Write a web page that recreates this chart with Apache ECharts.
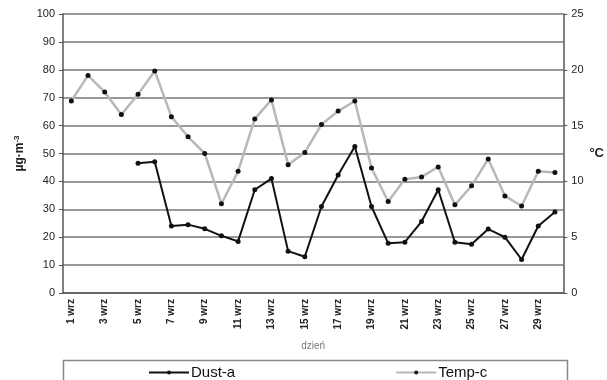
<!DOCTYPE html>
<html><head><meta charset="utf-8">
<script src="https://cdn.jsdelivr.net/npm/echarts@6/dist/echarts.min.js"></script>
<style>html,body{margin:0;padding:0;background:#fff}#c{width:607px;height:380px}</style>
</head><body><div id="c"></div>
<script>
var days = ["1 wrz","2 wrz","3 wrz","4 wrz","5 wrz","6 wrz","7 wrz","8 wrz","9 wrz","10 wrz","11 wrz","12 wrz","13 wrz","14 wrz","15 wrz","16 wrz","17 wrz","18 wrz","19 wrz","20 wrz","21 wrz","22 wrz","23 wrz","24 wrz","25 wrz","26 wrz","27 wrz","28 wrz","29 wrz","30 wrz"];
var dust = [null,null,null,null,46.5,47,24,24.5,23,20.5,18.5,37,41,15,13,31,42.3,52.5,31,17.8,18.2,25.6,37,18.2,17.5,22.9,20,12,24,29];
var temp = [17.2,19.5,18,16,17.8,19.9,15.8,14,12.5,8,10.9,15.6,17.3,11.5,12.6,15.1,16.3,17.2,11.2,8.2,10.2,10.4,11.3,7.9,9.6,12,8.7,7.8,10.9,10.8];
var leftTicks = [0,10,20,30,40,50,60,70,80,90,100];
var rightTicks = [0,5,10,15,20,25];

var chart = echarts.init(document.getElementById('c'));
var F = 'Liberation Sans, Arial, sans-serif';
chart.setOption({
  animation: false,
  textStyle: {fontFamily: F},
  grid: {left: 63, right: 40, top: 14, bottom: 87},
  xAxis: {
    type: 'category', data: days, boundaryGap: true,
    name: 'dzień', nameLocation: 'middle', nameGap: 48,
    nameTextStyle: {color: '#777', fontSize: 10},
    axisLine: {lineStyle: {color: '#555', width: 1.5}},
    axisTick: {interval: 1, length: 4, lineStyle: {color: '#555'}},
    axisLabel: {interval: 1, rotate: 90, fontSize: 10, fontWeight: 'bold', color: '#222', margin: 6},
    splitLine: {show: false}
  },
  yAxis: [{
    type: 'value', min: 0, max: 100, interval: 10,
    name: '{a|µg·m}{b|-3}', nameLocation: 'middle', nameGap: 33, nameRotate: 90,
    nameTextStyle: {rich: {a: {fontSize: 12, fontWeight: 'bold', color: '#222'}, b: {fontSize: 8, fontWeight: 'bold', color: '#222', verticalAlign: 'top', padding: [0,0,6,0]}}},
    axisLine: {show: true, lineStyle: {color: '#555', width: 1.5}},
    axisTick: {show: true, length: 4, lineStyle: {color: '#555'}},
    axisLabel: {fontSize: 11, color: '#222', margin: 8},
    splitLine: {show: true, lineStyle: {color: '#999', width: 2}}
  }, {
    type: 'value', min: 0, max: 25, interval: 5, position: 'right',
    name: '°C', nameLocation: 'middle', nameGap: 20, nameRotate: 0,
    nameTextStyle: {fontSize: 13, fontWeight: 'bold', color: '#222'},
    axisLine: {show: true, lineStyle: {color: '#555', width: 1.5}},
    axisTick: {show: true, length: 4, lineStyle: {color: '#555'}},
    axisLabel: {fontSize: 11, color: '#222', margin: 8},
    splitLine: {show: false}
  }],
  legend: {
    left: 143, top: 360, itemGap: 160, itemWidth: 40, itemHeight: 5,
    textStyle: {fontSize: 15, color: '#111', fontFamily: F, padding: [0,0,0,-3]},
    data: ['Dust-a', 'Temp-c']
  },
  graphic: [{
    type: 'rect', shape: {x: 63.5, y: 360.5, width: 504, height: 40},
    style: {fill: 'none', stroke: '#888', lineWidth: 1.5}, z: -1
  }],
  series: [{
    name: 'Dust-a', type: 'line', yAxisIndex: 0, data: dust,
    symbol: 'circle', symbolSize: 5, connectNulls: false,
    lineStyle: {color: '#111', width: 2}, itemStyle: {color: '#111'}, z: 3
  }, {
    name: 'Temp-c', type: 'line', yAxisIndex: 1, data: temp,
    symbol: 'circle', symbolSize: 5,
    lineStyle: {color: '#b8b8b8', width: 2.5}, itemStyle: {color: '#111'}, z: 2
  }]
});
</script></body></html>
